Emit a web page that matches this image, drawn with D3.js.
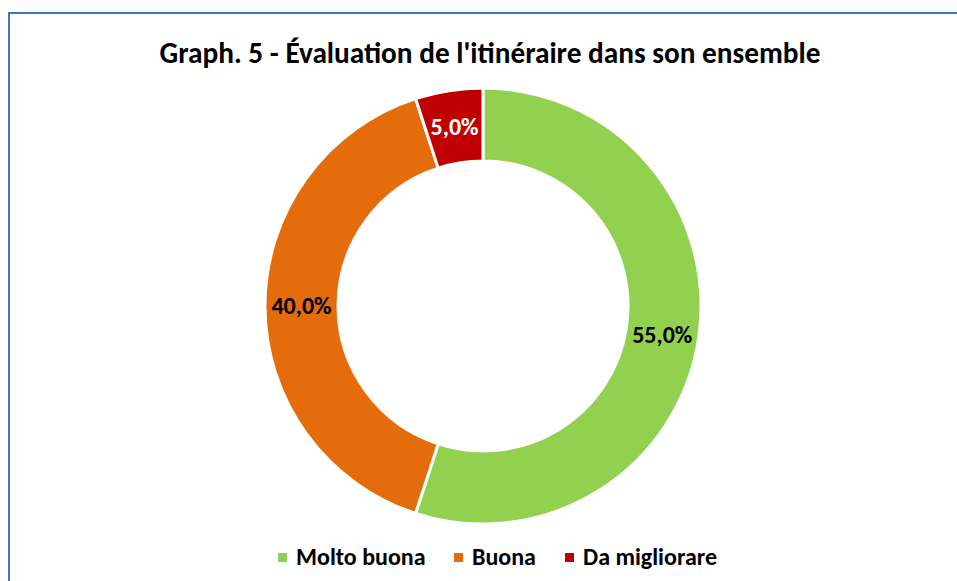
<!DOCTYPE html>
<html>
<head>
<meta charset="utf-8">
<script src="https://cdn.jsdelivr.net/npm/d3@7"></script>
<style>
  body { margin: 0; background: #fff; }
  svg { display: block; }
</style>
</head>
<body>
<div class="canvas"></div>
<script>
const categories = ['Molto buona', 'Buona', 'Da migliorare'];
const values = [55.0, 40.0, 5.0];
const colors = ['#92D050', '#E46C0A', '#C00000'];
const labelColors = ['#000', '#000', '#fff'];
const title = "Graph. 5 - Évaluation de l'itinéraire dans son ensemble";

const width = 957, height = 581;
const fontFam = "Carlito, Calibri, 'Open Sans', sans-serif";

const svg = d3.select('.canvas').append('svg')
    .attr('width', width)
    .attr('height', height);

// frame of the chart area
svg.append('rect')
    .attr('x', 9).attr('y', 13)
    .attr('width', 960).attr('height', 600)
    .attr('fill', '#fff')
    .attr('stroke', '#4472C4')
    .attr('stroke-width', 2);

const titleText = svg.append('text')
    .attr('x', 490).attr('y', 63)
    .attr('text-anchor', 'middle')
    .attr('font-family', fontFam)
    .attr('font-weight', 'bold')
    .attr('font-size', 29.3)
    .attr('fill', '#000')
    .text(title);

const cx = 483, cy = 306;
const outerR = 218, innerR = 145;

const pie = d3.pie().sort(null).value(d => d.value);
const arcs = pie(categories.map((c, i) => ({name: c, value: values[i], i: i})));
const arc = d3.arc().innerRadius(innerR).outerRadius(outerR);

const g = svg.append('g').attr('transform', `translate(${cx},${cy})`);

g.selectAll('path')
    .data(arcs)
    .join('path')
    .attr('d', arc)
    .attr('fill', d => colors[d.data.i])
    .attr('stroke', '#fff')
    .attr('stroke-width', 3)
    .attr('stroke-linejoin', 'round');

function fmt(v) { return v.toFixed(1).replace('.', ',') + '%'; }

g.selectAll('text.lbl')
    .data(arcs)
    .join('text')
    .attr('class', 'lbl')
    .attr('transform', d => `translate(${arc.centroid(d)})`)
    .attr('text-anchor', 'middle')
    .attr('dy', '0.35em')
    .attr('font-family', fontFam)
    .attr('font-weight', 'bold')
    .attr('font-size', 24)
    .attr('fill', d => labelColors[d.data.i])
    .text(d => fmt(d.data.value));

// legend
const legendX = [278, 454, 565];
const legend = svg.append('g');
categories.forEach((c, i) => {
    legend.append('rect')
        .attr('x', legendX[i]).attr('y', 553)
        .attr('width', 9).attr('height', 9)
        .attr('fill', colors[i]);
    legend.append('text')
        .attr('x', legendX[i] + 18).attr('y', 565)
        .attr('font-family', fontFam)
        .attr('font-weight', 'bold')
        .attr('font-size', 24)
        .attr('fill', '#000')
        .text(c);
});
</script>
</body>
</html>
